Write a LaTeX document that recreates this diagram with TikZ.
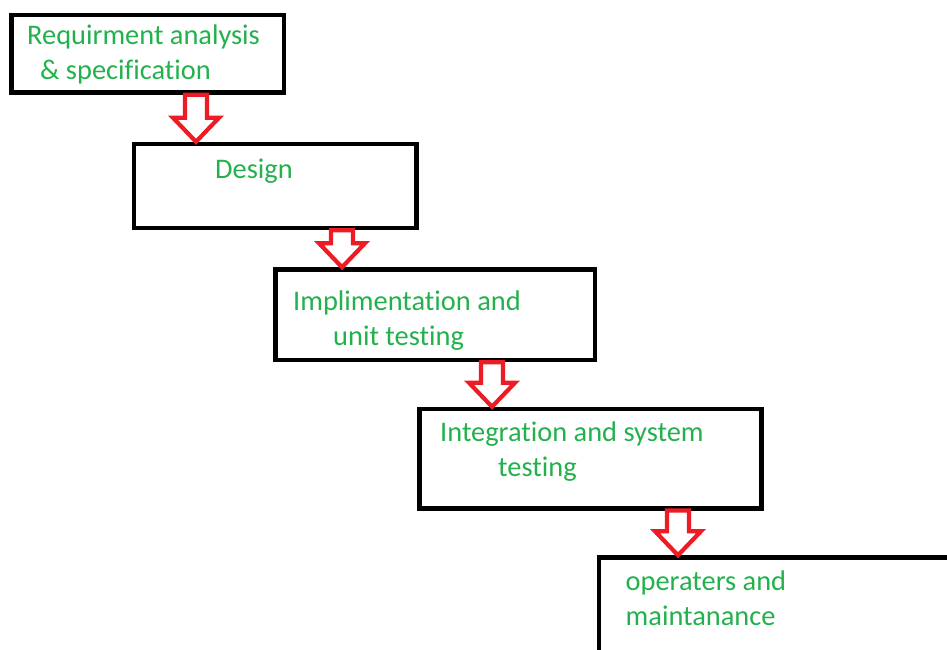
\documentclass[tikz,border=0pt]{standalone}
\usepackage{fontspec}
\setmainfont{Carlito}[RawFeature={-liga,-clig}]
\usetikzlibrary{calc}
\definecolor{stagegreen}{RGB}{34,177,76}
\definecolor{arrowred}{RGB}{237,28,36}
\tikzset{
	stage/.style={draw, rectangle, line width=4.5pt, inner sep=0pt},
	stagetext/.style={text=stagegreen, anchor=base west, inner sep=0pt, align=left, font=\fontsize{28.4}{35}\selectfont},
	flowarrow/.style={draw=arrowred, fill=white, line width=4.2pt, line join=miter,
		to path={($(\tikztostart)+(-11,0)$) -- ($(\tikztostart)+(11,0)$) -- ($(\tikztotarget)+(11,-24)$) -- ($(\tikztotarget)+(23,-24)$) -- (\tikztotarget) -- ($(\tikztotarget)+(-23,-24)$) -- ($(\tikztotarget)+(-11,-24)$) -- cycle}}
}
\begin{document}
\begin{tikzpicture}[x=1pt, y=-1pt]
		\useasboundingbox (0,0) rectangle (947,650);
		\clip (0,0) rectangle (947,650);
		\node[stage, minimum width=272.5, minimum height=77.5] (req) at (147.75,53.75) {};
		\node[stage, minimum width=282.5, minimum height=84] (design) at (275.25,186) {};
		\node[stage, minimum width=319.5, minimum height=90.5] (impl) at (435.25,314.75) {};
		\node[stage, minimum width=342.2, minimum height=99.3] (integ) at (590.6,458.65) {};
		\node[stage, minimum width=381, minimum height=132.5] (ops) at (789.5,623.75) {};
		\node[stagetext] (reqtext) at (27,80) {Requirment analysis\\\hspace{13pt}\& specification};
		\node[stagetext] (designtext) at (215,178) {Design};
		\node[stagetext] (impltext) at (293,345.5) {Implimentation and\\\hspace{40pt}unit testing};
		\node[stagetext] (integtext) at (440,476.5) {Integration and system\\\hspace{58pt}testing};
		\node[stagetext] (opstext) at (625.5,625) {operaters and\\maintanance};
		\coordinate (a1) at (196,0);
		\coordinate (a2) at (342,0);
		\coordinate (a3) at (492,0);
		\coordinate (a4) at (678,0);
		\draw[flowarrow] (req.south -| a1) to (design.north -| a1);
		\draw[flowarrow] (design.south -| a2) to (impl.north -| a2);
		\draw[flowarrow] (impl.south -| a3) to (integ.north -| a3);
		\draw[flowarrow] (integ.south -| a4) to (ops.north -| a4);
		\end{tikzpicture}
\end{document}
